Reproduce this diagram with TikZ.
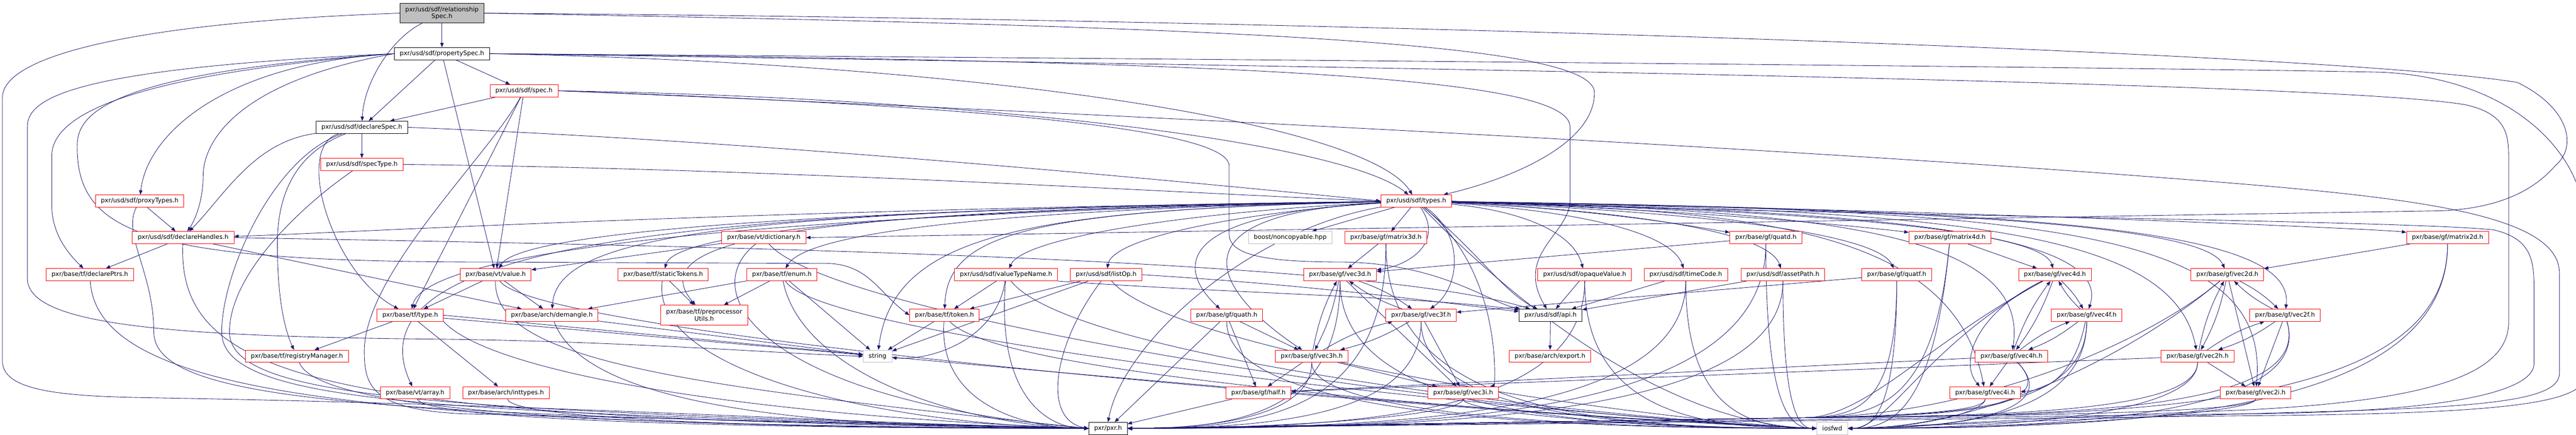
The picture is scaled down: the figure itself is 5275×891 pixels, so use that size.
\documentclass[tikz,border=0pt]{standalone}
\usepackage{fontspec}
\newfontfamily\dejavu{DejaVu Sans}
\usetikzlibrary{arrows.meta}
\pgfdeclarelayer{edges}
\pgfsetlayers{edges,main}
\definecolor{edgeblue}{HTML}{191970}
\newcommand\hdrfont{\dejavu\fontsize{12.7}{14.4}\selectfont}
\tikzset{
  hdr/.style={rectangle, draw=red, fill=white, line width=1pt, minimum height=25pt,
    inner xsep=11pt, inner ysep=2pt, font=\hdrfont},
  hdrdoc/.style={hdr, draw=black},
  hdrsys/.style={hdr, draw=gray!50},
  hdrtop/.style={hdr, draw=black, fill=gray!50, align=center, minimum height=40pt},
  dep/.style={draw=edgeblue, line width=0.9pt, -{Triangle[length=9pt,width=7pt]}}
}
\begin{document}
\begin{tikzpicture}[x=1pt,y=1pt]
\useasboundingbox (0,0) rectangle (5275,-891);
% headers
\node[hdrtop] (root) at (905,-27) {pxr/usd/sdf/relationship\\Spec.h};
\node[hdrdoc] (prop) at (905,-110) {pxr/usd/sdf/propertySpec.h};
\node[hdrdoc] (dspec) at (741,-261) {pxr/usd/sdf/declareSpec.h};
\node[hdr] (spect) at (741,-337) {pxr/usd/sdf/specType.h};
\node[hdr] (proxy) at (286,-412) {pxr/usd/sdf/proxyTypes.h};
\node[hdr] (dhandles) at (375,-487) {pxr/usd/sdf/declareHandles.h};
\node[hdr] (dptrs) at (184,-563) {pxr/base/tf/declarePtrs.h};
\node[hdr] (tftype) at (840,-646) {pxr/base/tf/type.h};
\node[hdr] (regmgr) at (608,-730) {pxr/base/tf/registryManager.h};
\node[hdr] (vtarray) at (850,-805) {pxr/base/vt/array.h};
\node[hdr] (spec) at (1073,-186) {pxr/usd/sdf/spec.h};
\node[hdr] (vtvalue) at (1015,-563) {pxr/base/vt/value.h};
\node[hdr] (demangle) at (1130,-646) {pxr/base/arch/demangle.h};
\node[hdr] (vtdict) at (1564,-487) {pxr/base/vt/dictionary.h};
\node[hdr] (stokens) at (1358,-563) {pxr/base/tf/staticTokens.h};
\node[hdr] (tfenum) at (1601,-563) {pxr/base/tf/enum.h};
\node[hdr, align=center, minimum height=41pt] (pputils) at (1442,-646) {pxr/base/tf/preprocessor\\Utils.h};
\node[hdrsys] (string) at (1797,-730) {string};
\node[hdr] (inttypes) at (1036,-805) {pxr/base/arch/inttypes.h};
\node[hdr] (vtname) at (2060,-563) {pxr/usd/sdf/valueTypeName.h};
\node[hdr] (listop) at (2265,-563) {pxr/usd/sdf/listOp.h};
\node[hdr] (token) at (1934,-646) {pxr/base/tf/token.h};
\node[hdr] (quath) at (2512,-646) {pxr/base/gf/quath.h};
\node[hdrsys] (noncopy) at (2642,-487) {boost/noncopyable.hpp};
\node[hdr] (half) at (2577,-805) {pxr/base/gf/half.h};
\node[hdrdoc] (pxr) at (2269,-878) {pxr/pxr.h};
\node[hdr] (types) at (2900,-412) {pxr/usd/sdf/types.h};
\node[hdr] (mat3d) at (2838,-487) {pxr/base/gf/matrix3d.h};
\node[hdr] (vec3d) at (2744,-563) {pxr/base/gf/vec3d.h};
\node[hdr] (vec3f) at (2910,-646) {pxr/base/gf/vec3f.h};
\node[hdr] (vec3h) at (2686,-730) {pxr/base/gf/vec3h.h};
\node[hdr] (vec3i) at (2996,-805) {pxr/base/gf/vec3i.h};
\node[hdr] (opaque) at (3245,-563) {pxr/usd/sdf/opaqueValue.h};
\node[hdr] (tcode) at (3452,-563) {pxr/usd/sdf/timeCode.h};
\node[hdr] (apath) at (3651,-563) {pxr/usd/sdf/assetPath.h};
\node[hdr] (quatd) at (3616,-487) {pxr/base/gf/quatd.h};
\node[hdrdoc] (api) at (3175,-646) {pxr/usd/sdf/api.h};
\node[hdr] (export) at (3174,-730) {pxr/base/arch/export.h};
\node[hdr] (mat4d) at (3993,-487) {pxr/base/gf/matrix4d.h};
\node[hdr] (quatf) at (3884,-563) {pxr/base/gf/quatf.h};
\node[hdr] (vec4d) at (4208,-563) {pxr/base/gf/vec4d.h};
\node[hdr] (vec4f) at (4273,-646) {pxr/base/gf/vec4f.h};
\node[hdr] (vec4h) at (4119,-730) {pxr/base/gf/vec4h.h};
\node[hdr] (vec4i) at (4065,-805) {pxr/base/gf/vec4i.h};
\node[hdrsys] (iosfwd) at (3752,-878) {iosfwd};
\node[hdr] (mat2d) at (5012,-487) {pxr/base/gf/matrix2d.h};
\node[hdr] (vec2d) at (4561,-563) {pxr/base/gf/vec2d.h};
\node[hdr] (vec2f) at (4679,-646) {pxr/base/gf/vec2f.h};
\node[hdr] (vec2h) at (4500,-730) {pxr/base/gf/vec2h.h};
\node[hdr] (vec2i) at (4619,-805) {pxr/base/gf/vec2i.h};

\begin{pgfonlayer}{edges}
% short includes
\foreach \s/\t in {root/prop, prop/dspec, prop/spec, prop/vtvalue, dspec/spect, spec/dspec,
  spec/vtvalue, spec/tftype, proxy/dhandles, dhandles/dptrs, dhandles/demangle, tftype/regmgr,
  tftype/inttypes, tftype/string, vtvalue/tftype, vtvalue/demangle, demangle/string,
  vtdict/vtvalue, stokens/pputils, tfenum/pputils, tfenum/demangle, tfenum/string,
  vtname/token, listop/token, listop/string, token/string, quath/vec3h, quath/half,
  quath/pxr, half/pxr, vec3h/half, vec4h/half, vec2h/half, types/mat3d, types/noncopy,
  mat3d/vec3d, quatd/vec3d, quatf/vec3f, vec3d/vec3i, vec3f/vec3i, vec3h/vec3i,
  opaque/api, tcode/api, apath/api, api/export, mat4d/vec4d, vec4h/vec4i, mat2d/vec2d,
  vec2d/vec2i, vec2f/vec2i, vec2h/vec2i}
  \draw[dep] (\s) -- (\t);
% vectors that include each other
\foreach \a/\b in {vec3d/vec3f, vec3d/vec3h, vec3f/vec3h, vec4d/vec4f, vec4d/vec4h,
  vec4f/vec4h, vec2d/vec2f, vec2d/vec2h, vec2f/vec2h}
  {\draw[dep] (\a) to[bend left=8] (\b);
   \draw[dep] (\b) to[bend left=8] (\a);}
\draw[dep] (vec4d) .. controls (4050,-640) and (4010,-740) .. (vec4i);
\draw[dep] (vec4f) .. controls (4250,-760) and (4200,-800) .. (vec4i);

% root
\draw[dep] (root) .. controls (800,-80) and (745,-170) .. (dspec);
\draw[dep] (root.west) .. controls (300,-45) and (5,-110) .. (5,-200) -- (5,-740)
  .. controls (5,-800) and (120,-812) .. (300,-815) .. controls (1200,-830) and (1900,-875) .. (pxr.west);
\draw[dep] (root.east) .. controls (2600,-55) and (3265,-90) .. (3265,-190)
  .. controls (3265,-300) and (3080,-370) .. (types);
\draw[dep] (root.east) .. controls (2800,-40) and (4800,-110) .. (5155,-169)
  .. controls (5260,-220) and (5280,-300) .. (5232,-340)
  .. controls (5180,-400) and (5100,-428) .. (4997,-432) -- (vtdict.east);

% propertySpec
\draw[dep] (prop.west) .. controls (450,-130) and (300,-280) .. (proxy);
\draw[dep] (prop.west) .. controls (470,-170) and (416,-300) .. (416,-360)
  .. controls (416,-410) and (400,-450) .. (dhandles);
\draw[dep] (prop.west) .. controls (180,-160) and (106,-260) .. (106,-320) -- (106,-420)
  .. controls (106,-480) and (140,-520) .. (dptrs);
\draw[dep] (prop.west) .. controls (200,-150) and (158,-240) .. (158,-300)
  .. controls (158,-480) and (300,-537) .. (1000,-537) -- (1700,-540)
  .. controls (1780,-545) and (1800,-600) .. (token.west);
\draw[dep] (prop.west) .. controls (150,-140) and (56,-200) .. (56,-260) -- (56,-570)
  .. controls (56,-660) and (300,-690) .. (900,-695) .. controls (1300,-700) and (1600,-725) .. (string.west);
\draw[dep] (prop.east) .. controls (2000,-130) and (2800,-250) .. (types);
\draw[dep] (prop.east) .. controls (2600,-125) and (3215,-160) .. (3215,-260) -- (3215,-410)
  .. controls (3215,-480) and (3100,-520) .. (api);
\draw[dep] (prop.east) .. controls (3000,-125) and (4500,-140) .. (4876,-148)
  .. controls (5150,-160) and (5293,-320) .. (5293,-460) -- (5293,-770)
  .. controls (5293,-830) and (5100,-848) .. (4600,-852) -- (pxr.east);
\draw[dep] (prop.east) .. controls (3000,-140) and (4800,-170) .. (5050,-215)
  .. controls (5137,-235) and (5137,-280) .. (5137,-330) -- (5137,-660)
  .. controls (5137,-760) and (5000,-820) .. (4600,-840) .. controls (4100,-860) and (3900,-875) .. (iosfwd.east);

% declareSpec and specType
\draw[dep] (dspec) .. controls (520,-290) and (460,-400) .. (dhandles);
\draw[dep] (dspec) .. controls (600,-300) and (680,-560) .. (tftype);
\draw[dep] (dspec) .. controls (590,-320) and (568,-420) .. (568,-500)
  .. controls (568,-620) and (585,-680) .. (regmgr);
\draw[dep] (dspec) .. controls (560,-320) and (454,-560) .. (454,-680)
  .. controls (454,-830) and (900,-845) .. (pxr.west);
\draw[dep] (dspec.east) .. controls (1600,-290) and (2500,-380) .. (types.west);
\draw[dep] (spect.east) .. controls (1600,-345) and (2500,-400) .. (types.west);
\draw[dep] (spect) .. controls (620,-420) and (470,-560) .. (470,-680)
  .. controls (470,-820) and (900,-840) .. (pxr.west);

% spec
\draw[dep] (spec) .. controls (1000,-320) and (746,-560) .. (746,-720)
  .. controls (746,-790) and (760,-840) .. (950,-848) -- (pxr.west);
\draw[dep] (spec.east) .. controls (2000,-200) and (2750,-290) .. (types);
\draw[dep] (spec.east) .. controls (1800,-210) and (2517,-250) .. (2517,-340) -- (2517,-480)
  .. controls (2517,-525) and (2600,-537) .. (2750,-537) .. controls (2950,-540) and (3050,-620) .. (api);
\draw[dep] (spec.east) .. controls (2200,-230) and (3600,-300) .. (4400,-362)
  .. controls (4900,-400) and (5241,-430) .. (5241,-560) -- (5241,-765)
  .. controls (5241,-820) and (5100,-835) .. (4700,-845) .. controls (4200,-860) and (3950,-872) .. (iosfwd.east);

% left side down to pxr.h and iosfwd
\draw[dep] (proxy) .. controls (250,-480) and (315,-560) .. (315,-680)
  .. controls (315,-830) and (800,-850) .. (pxr.west);
\draw[dep] (dhandles) .. controls (362,-790) and (700,-860) .. (pxr.west);
\draw[dep] (dhandles.east) .. controls (1500,-505) and (2800,-530) .. (api);
\draw[dep] (dptrs) .. controls (200,-820) and (800,-870) .. (pxr.west);
\draw[dep] (regmgr) .. controls (650,-840) and (1200,-876) .. (pxr.west);
\draw[dep] (vtarray) .. controls (870,-860) and (1500,-878) .. (pxr.west);
\draw[dep] (inttypes) .. controls (1050,-860) and (1600,-878) .. (pxr.west);
\draw[dep] (demangle) .. controls (1200,-840) and (1700,-878) .. (pxr.west);
\draw[dep] (vtvalue) .. controls (1010,-740) and (1400,-790) .. (pxr.west);
\draw[dep] (tftype.south east) .. controls (1000,-760) and (1500,-850) .. (pxr.west);
\draw[dep] (vtdict) .. controls (1420,-600) and (1560,-820) .. (pxr.west);
\draw[dep] (stokens) .. controls (1330,-760) and (1800,-870) .. (pxr.west);
\draw[dep] (tfenum) .. controls (1640,-760) and (1950,-870) .. (pxr.west);
\draw[dep] (token) .. controls (1920,-830) and (2100,-878) .. (pxr.west);
\draw[dep] (vtname) .. controls (2040,-820) and (2150,-878) .. (pxr.west);
\draw[dep] (listop) .. controls (2160,-700) and (2130,-860) .. (pxr.west);
\draw[dep] (tftype.east) .. controls (1500,-700) and (3000,-850) .. (iosfwd.west);
\draw[dep] (vtvalue) .. controls (1100,-690) and (3000,-850) .. (iosfwd.west);
\draw[dep] (vtdict) .. controls (1700,-650) and (3000,-850) .. (iosfwd.west);
\draw[dep] (tfenum) .. controls (1680,-700) and (3200,-855) .. (iosfwd.west);
\draw[dep] (token) .. controls (2050,-780) and (3300,-860) .. (iosfwd.west);
\draw[dep] (vtname) .. controls (2200,-740) and (3300,-860) .. (iosfwd.west);
\draw[dep] (listop) .. controls (2400,-720) and (3350,-860) .. (iosfwd.west);
\draw[dep] (vtname) .. controls (2040,-700) and (1900,-740) .. (string);
\draw[dep] (vtname.south east) .. controls (2500,-600) and (2950,-610) .. (api);
\draw[dep] (listop.east) .. controls (2700,-585) and (2950,-620) .. (api);

% sdf/types.h
\foreach \t/\a/\b in {dhandles/1500/650, tftype/2000/880, vtarray/1500/700, vtvalue/1600/1060,
  demangle/1500/1140, pputils/1700/1300, stokens/1800/1380, tfenum/2000/1650, string/2100/1830,
  token/2100/1940, vtname/2500/2100, listop/2600/2280}
  \draw[dep] (types) .. controls (\a,-430) and (\b,-480) .. (\t);
\foreach \t/\a/\b in {mat2d/4000/4880, mat4d/3500/3860, quatd/3300/3500, quatf/3400/3840,
  apath/3300/3620, tcode/3200/3420, opaque/3100/3220, vec4d/3700/4180, vec4f/3800/4330,
  vec4h/3700/4160, vec4i/3600/4000, vec2d/4100/4520, vec2f/4200/4700, vec2h/4000/4450,
  vec2i/4200/4650}
  \draw[dep] (types) .. controls (\a,-430) and (\b,-470) .. (\t);
\draw[dep] (types) .. controls (3030,-520) and (3080,-600) .. (api);
\draw[dep] (types) .. controls (3000,-480) and (2990,-590) .. (vec3f);
\draw[dep] (types) .. controls (2960,-500) and (2880,-545) .. (vec3d);
\draw[dep] (types) .. controls (2350,-440) and (2520,-620) .. (vec3h);
\draw[dep] (types) .. controls (3080,-560) and (3060,-790) .. (vec3i);
\draw[dep] (types) .. controls (2380,-440) and (2420,-560) .. (quath);
\draw[dep] (types) .. controls (2560,-470) and (2300,-700) .. (pxr.north);
\draw[dep] (types) .. controls (3080,-600) and (3400,-870) .. (iosfwd.west);
\draw[dep] (types.east) .. controls (3600,-440) and (4900,-450) .. (5106,-471)
  .. controls (5189,-490) and (5189,-540) .. (5189,-600) -- (5189,-745)
  .. controls (5189,-805) and (5000,-845) .. (4600,-848) -- (pxr.east);

% gf headers down to pxr.h and iosfwd
\foreach \s/\x in {vec3h/2686, vec3d/2744, mat3d/2838, vec3f/2910, vec3i/2996, opaque/3245,
  tcode/3452, quatd/3616, apath/3651}
  \draw[dep] (\s) .. controls (\x,-850) and ({(\x+2309)/2},-878) .. (pxr.east);
\foreach \s/\x in {quath/2512, vec3h/2686, vec3d/2744, mat3d/2838, vec3f/2910, vec3i/2996,
  opaque/3245, tcode/3452, quatd/3616, apath/3651}
  \draw[dep] (\s) .. controls (\x,-845) and ({(\x+3719)/2},-878) .. (iosfwd.west);
\foreach \s/\cx/\cy in {quatf/3884/-845, mat4d/3960/-845, vec4d/3950/-700, vec4f/4273/-845,
  vec4h/4230/-845, vec4i/4065/-845, vec2d/4400/-700, vec2f/4740/-845, vec2h/4500/-845,
  vec2i/4619/-845, mat2d/5012/-845}
  {\draw[dep] (\s) .. controls (\cx,\cy) and ({(\cx+3700)/2},-852) .. (3700,-856) -- (pxr.east);
   \draw[dep] (\s) .. controls (\cx,\cy) and ({(\cx+3784)/2},-878) .. (iosfwd.east);}
\end{pgfonlayer}
\end{tikzpicture}
\end{document}
